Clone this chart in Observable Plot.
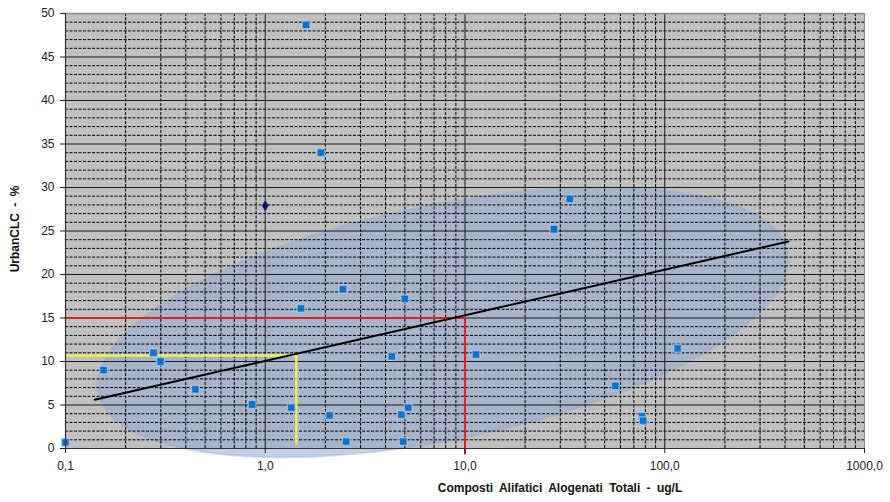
<!DOCTYPE html>
<html><head><meta charset="utf-8">
<script src="https://cdn.jsdelivr.net/npm/d3@7"></script>
<script src="https://cdn.jsdelivr.net/npm/@observablehq/plot@0.6"></script>
<style>
body{margin:0;background:#fff;}
svg{font-family:"Liberation Sans",Arial,sans-serif;}
</style>
</head><body><div id="chart"></div>
<script>
// Sample points (x: Composti Alifatici Alogenati Totali ug/L, y: UrbanCLC %)
const sampleX = [0.1, 0.155, 0.276, 0.299, 0.447, 0.86, 1.35, 1.6, 1.9, 1.51, 2.45, 2.1, 2.54, 4.3, 4.8, 5.2, 4.9, 5.0, 11.35, 27.9, 33.5, 56.6, 77, 78, 116];
const sampleY = [0.7, 9.0, 11.0, 10.0, 6.8, 5.06, 4.7, 48.7, 34.0, 16.1, 18.3, 3.8, 0.8, 10.6, 3.9, 4.7, 0.8, 17.2, 10.8, 25.2, 28.7, 7.2, 3.7, 3.2, 11.5];
// Highlighted point
const highlightX = [1.0];
const highlightY = [27.9];
// Trend line end points
const trendX = [0.14, 417];
const trendY = [5.6, 23.8];
// Reference lines
const redPathX = [0.1, 10, 10];
const redPathY = [15, 15, -0.6];
const yellowPathX = [0.1, 1.43, 1.43];
const yellowPathY = [10.7, 10.7, 0.6];
// Ellipse (center and conjugate half-axes in log10-decades / % units)
const ellipseCenter = [7.76, 14.5];
const ellipseAxisA = [1.726, 8.14];
const ellipseAxisB = [-0.118, 13.22];
// Ticks
const xTicks = [0.1, 1, 10, 100, 1000];
const yTicks = [0, 5, 10, 15, 20, 25, 30, 35, 40, 45, 50];

const points = sampleX.map((x, i) => ({x, y: sampleY[i]}));
const highlight = highlightX.map((x, i) => ({x, y: highlightY[i]}));
const trend = trendX.map((x, i) => ({x, y: trendY[i]}));
const redPath = redPathX.map((x, i) => ({x, y: redPathY[i]}));
const yellowPath = yellowPathX.map((x, i) => ({x, y: yellowPathY[i]}));

const ellipse = d3.range(0, 360, 3).map(deg => {
  const t = deg * Math.PI / 180;
  const du = ellipseAxisA[0] * Math.cos(t) + ellipseAxisB[0] * Math.sin(t);
  const dv = ellipseAxisA[1] * Math.cos(t) + ellipseAxisB[1] * Math.sin(t);
  return {x: ellipseCenter[0] * Math.pow(10, du), y: ellipseCenter[1] + dv};
});

const minorX = [];
[0.1, 1, 10, 100].forEach(d => { for (let k = 2; k <= 9; k++) minorX.push(+(k * d).toPrecision(3)); });
const minorY = d3.range(1, 50).filter(v => v % 5 !== 0);
const majorX = [1, 10, 100];
const majorY = [5, 10, 15, 20, 25, 30, 35, 40, 45];

const fmt = d => d.toFixed(1).replace(".", ",");

const chart = Plot.plot({
  width: 890, height: 502,
  marginLeft: 65, marginRight: 26, marginTop: 13, marginBottom: 54,
  style: {background: "#fff", fontFamily: "'Liberation Sans', Arial, sans-serif", fontSize: "12px", color: "#222", overflow: "visible"},
  x: {type: "log", domain: [0.1, 1000], label: null},
  y: {domain: [0, 50], label: null},
  marks: [
    Plot.frame({fill: "#c0c0c0", stroke: null}),
    Plot.line(ellipse, {x: "x", y: "y", curve: "linear-closed", fill: "#93aad2", fillOpacity: 0.55, stroke: "#93aad2", strokeOpacity: 0.3, strokeWidth: 2}),
    Plot.ruleX(minorX, {stroke: "#000", strokeWidth: 1, strokeDasharray: "3,1.5"}),
    Plot.ruleY(minorY, {stroke: "#000", strokeWidth: 1, strokeDasharray: "3,1.5"}),
    Plot.ruleX(majorX, {stroke: "#1a1a1a", strokeWidth: 1}),
    Plot.ruleY(majorY, {stroke: "#1a1a1a", strokeWidth: 1}),
    Plot.ruleY([50], {stroke: "#8a8a8a", strokeWidth: 1.5}),
    Plot.ruleX([1000], {stroke: "#8a8a8a", strokeWidth: 1}),
    Plot.line(yellowPath, {x: "x", y: "y", stroke: "#eeee55", strokeWidth: 2.5}),
    Plot.line(redPath, {x: "x", y: "y", stroke: "#dd2222", strokeWidth: 2}),
    Plot.line(trend, {x: "x", y: "y", stroke: "#000", strokeWidth: 2}),
    Plot.dot(points, {x: "x", y: "y", symbol: "square", r: 4.4, fill: "#1170c8", stroke: "#bcd4ee", strokeOpacity: 0.6, strokeWidth: 1.5}),
    Plot.dot(highlight, {x: "x", y: "y", symbol: "diamond", r: 3.6, fill: "#0a0a70", stroke: "#8888cc", strokeOpacity: 0.5, strokeWidth: 1}),
    Plot.ruleY([0], {stroke: "#333", strokeWidth: 1.2}),
    Plot.ruleX([0.1], {stroke: "#333", strokeWidth: 1.2}),
    Plot.axisX({ticks: xTicks, tickFormat: fmt, tickSize: 5, tickPadding: 8, label: null, fontSize: 12}),
    Plot.axisY({ticks: yTicks, tickSize: 5, tickPadding: 6, label: null, fontSize: 12})
  ]
});

const svg = d3.select(chart);
svg.append("text")
  .attr("transform", "translate(19,229) rotate(-90)")
  .attr("text-anchor", "middle")
  .attr("font-weight", "bold")
  .attr("font-size", "12px")
  .attr("word-spacing", "3px")
  .attr("fill", "#111")
  .text("UrbanCLC - %");
svg.append("text")
  .attr("x", 560).attr("y", 492)
  .attr("text-anchor", "middle")
  .attr("font-weight", "bold")
  .attr("font-size", "12px")
  .attr("word-spacing", "3px")
  .attr("fill", "#111")
  .text("Composti Alifatici Alogenati Totali - ug/L");

document.getElementById("chart").appendChild(chart);
</script>
</body></html>
